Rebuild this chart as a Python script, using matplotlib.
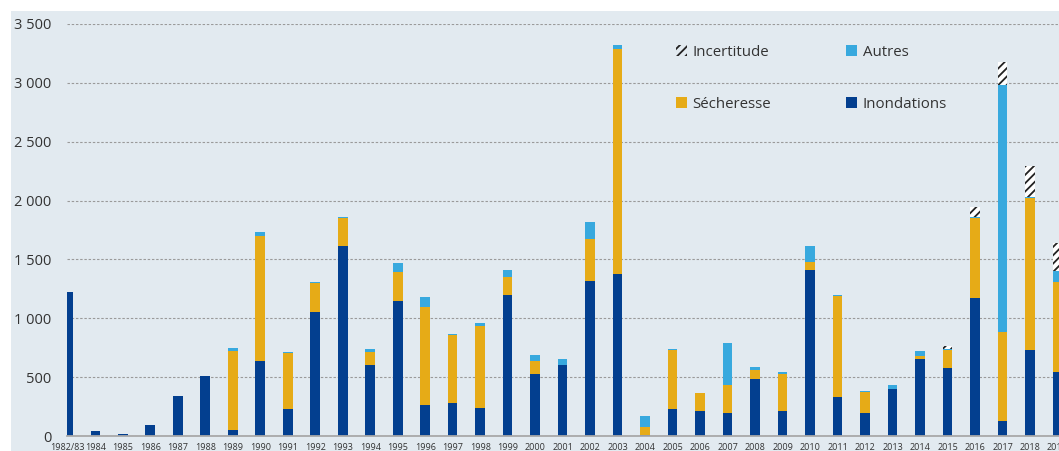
import numpy as np
import matplotlib
matplotlib.use('Agg')
import matplotlib.pyplot as plt
from matplotlib.patches import Patch, Rectangle
from matplotlib.ticker import FuncFormatter

plt.rcParams['font.family'] = 'Open Sans'
plt.rcParams['hatch.linewidth'] = 1.3

# Values (millions of euros, by year of event)
years = ['1982/83', '1984', '1985', '1986', '1987', '1988', '1989', '1990', '1991', '1992',
         '1993', '1994', '1995', '1996', '1997', '1998', '1999', '2000', '2001', '2002',
         '2003', '2004', '2005', '2006', '2007', '2008', '2009', '2010', '2011', '2012',
         '2013', '2014', '2015', '2016', '2017', '2018', '2019']
inondations = [1225, 40, 20, 90, 340, 510, 55, 635, 227, 1050,
               1612, 603, 1144, 261, 278, 235, 1200, 524, 603, 1317,
               1374, 11, 227, 211, 195, 482, 212, 1413, 334, 193,
               402, 652, 581, 1175, 130, 731, 546]
secheresse = [0, 0, 0, 0, 0, 0, 670, 1067, 480, 250,
              238, 108, 250, 835, 578, 702, 150, 113, 0, 360,
              1914, 63, 504, 157, 236, 79, 312, 65, 856, 184,
              0, 31, 147, 675, 756, 1291, 765]
autres = [0, 0, 0, 0, 0, 0, 20, 34, 5, 10,
          10, 26, 74, 85, 8, 20, 57, 51, 51, 139,
          37, 93, 5, 0, 357, 23, 17, 134, 11, 8,
          31, 42, 11, 14, 2094, 11, 91]
incertitude = [0, 0, 0, 0, 0, 0, 0, 0, 0, 0,
               0, 0, 0, 0, 0, 0, 0, 0, 0, 0,
               0, 0, 0, 0, 0, 0, 0, 0, 0, 0,
               0, 0, 26, 79, 200, 261, 235]

c_inond = '#033f8f'
c_sech = '#e6ab17'
c_autres = '#38a9de'
bg = '#e2eaf0'

W, H = 1059, 451
fig = plt.figure(figsize=(W / 100, H / 100), dpi=100)
fig.patches.append(Rectangle((11 / W, 0), 1, (H - 11) / H, transform=fig.transFigure,
                             facecolor=bg, edgecolor='none', zorder=-10))

ax = fig.add_axes([67 / W, (H - 436) / H, (W - 67) / W, (436 - 24) / H])
ax.set_facecolor('none')

x = np.arange(len(years))
inond = np.array(inondations)
sech = np.array(secheresse)
aut = np.array(autres)
inc = np.array(incertitude)
w = 0.35

ax.bar(x, inond, w, color=c_inond, zorder=3)
ax.bar(x, sech, w, bottom=inond, color=c_sech, zorder=3)
ax.bar(x, aut, w, bottom=inond + sech, color=c_autres, zorder=3)
ax.bar(x, inc, w, bottom=inond + sech + aut, facecolor='white', edgecolor='#222222',
       linewidth=0, hatch='////', zorder=3)

ax.set_xlim(-0.03, -0.03 + (W - 67) / 27.49)
ax.set_ylim(0, 3500)
ax.set_yticks(np.arange(0, 3501, 500))
ax.yaxis.set_major_formatter(FuncFormatter(lambda v, p: f'{int(v):,}'.replace(',', ' ')))
ax.set_xticks(x)
ax.set_xticklabels(years)

ax.grid(axis='y', color='#9a9a9a', linestyle=(0, (2.2, 1.6)), linewidth=0.8, zorder=0)
for s in ['top', 'right', 'left']:
    ax.spines[s].set_visible(False)
ax.spines['bottom'].set_color('#a8a8a8')
ax.spines['bottom'].set_linewidth(1.3)
ax.spines['bottom'].set_zorder(4)

ax.tick_params(axis='y', length=0, pad=11, labelsize=10.5, labelcolor='#333333')
ax.tick_params(axis='x', length=0, pad=5, labelsize=6.5, labelcolor='#333333')

handles = [
    Patch(facecolor='none', edgecolor='#222222', linewidth=0, hatch='////', label='Incertitude'),
    Patch(facecolor=c_sech, label='Sécheresse'),
    Patch(facecolor=c_autres, label='Autres'),
    Patch(facecolor=c_inond, label='Inondations'),
]
fig.legend(handles=handles, loc='upper left', bbox_to_anchor=(676 / W, (H - 45) / H),
           ncol=2, frameon=False, fontsize=10.8, handlelength=0.75, handleheight=0.75,
           handletextpad=0.35, labelspacing=2.45, columnspacing=5.0, borderpad=0,
           borderaxespad=0, labelcolor='#333333')

fig.savefig('out.png', dpi=100, facecolor='white')
